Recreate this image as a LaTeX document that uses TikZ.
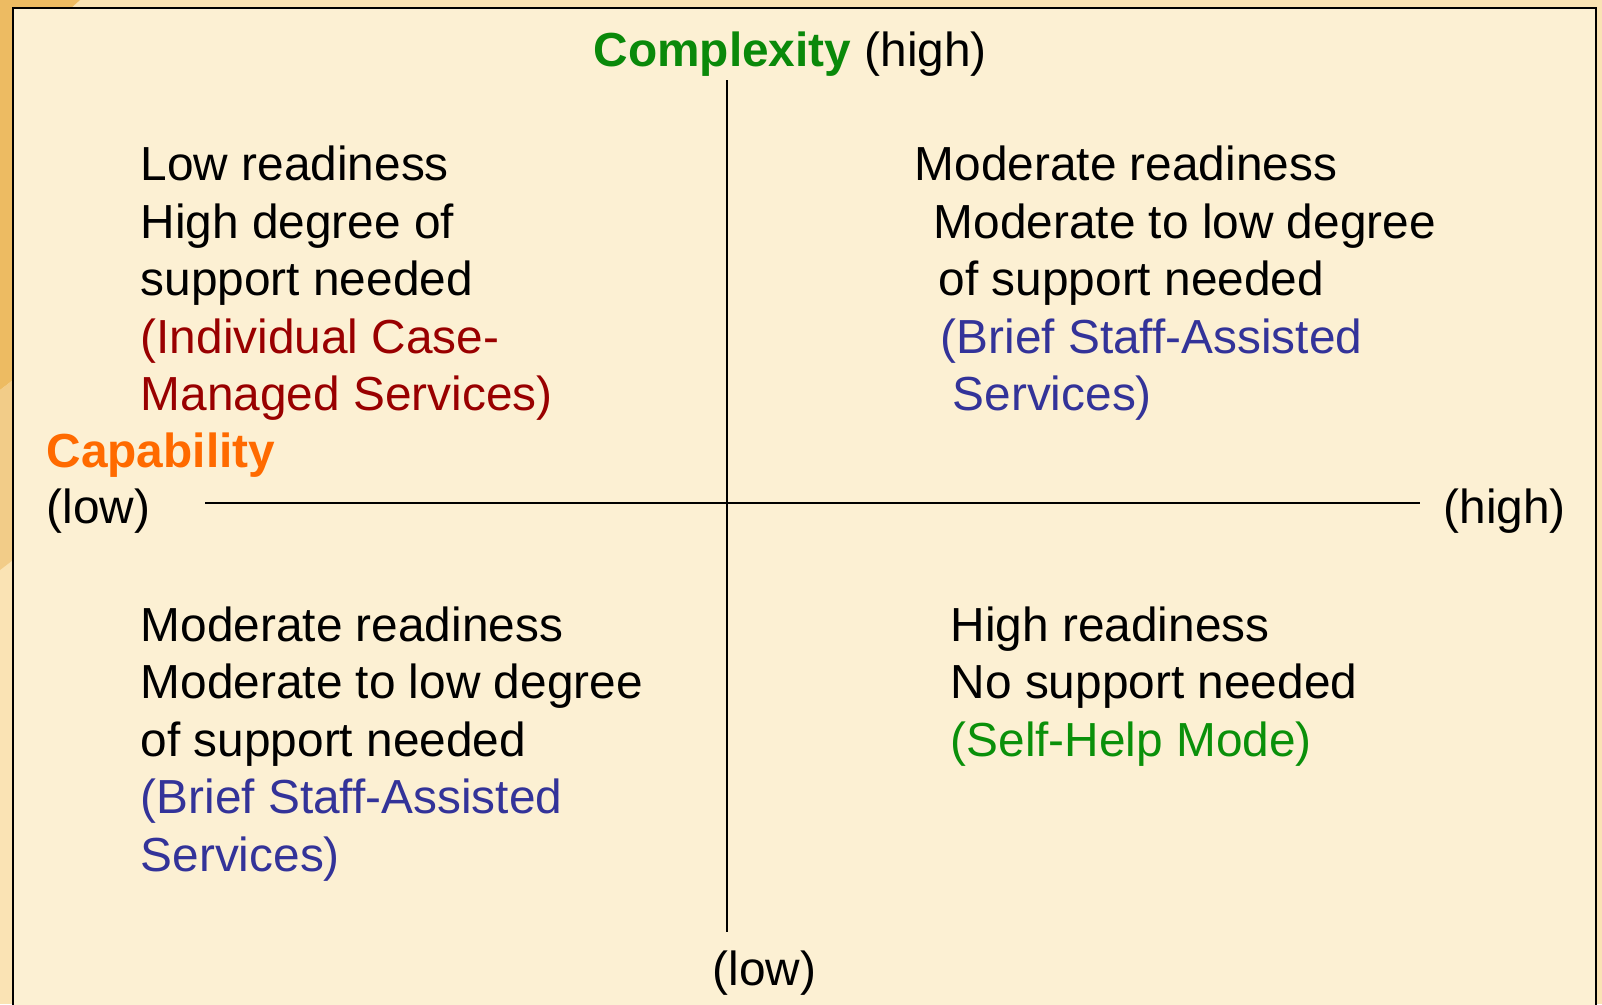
\documentclass[tikz,border=0pt]{standalone}
\usepackage{fontspec}
\setmainfont{Liberation Sans}
\usepackage{tikz}
\usetikzlibrary{positioning}

\definecolor{paper}{HTML}{FCF0D3}
\definecolor{peach}{HTML}{FAE3B4}
\definecolor{rimorange}{HTML}{EDBB62}
\definecolor{rimmid}{HTML}{F2CC88}
\definecolor{axisgreen}{HTML}{0A890A}
\definecolor{axisorange}{HTML}{FF6A00}
\definecolor{casered}{HTML}{990000}
\definecolor{staffblue}{HTML}{333399}
\definecolor{selfgreen}{HTML}{0A900A}

\tikzset{
  txt/.style={inner sep=0pt, anchor=base west, font=\fontsize{13.6}{16}\selectfont},
  axis/.style={line width=0.75pt}
}

\begin{document}
\begin{tikzpicture}
			\clip (0,0) rectangle (16.02,-10.04);
			% slide frame
			\fill[peach] (0,0) rectangle (16.02,-10.04);
			\fill[rimorange] (0,0) -- (0.8,0) -- (0.13,-0.6) -- (0.13,-3.8) -- (0,-3.9) -- cycle;
			\fill[rimmid] (0,-3.9) -- (0.13,-3.8) -- (0.13,-5.6) -- (0,-5.7) -- cycle;
			\fill[paper] (0.13,-0.08) rectangle (15.96,-10.3);
			\draw[line width=0.6pt] (0.13,-0.08) rectangle (15.96,-10.3);

			% axes
			\coordinate (top) at (7.27,-0.80);
			\coordinate (bot) at (7.27,-9.32);
			\coordinate (lft) at (2.05,-5.03);
			\coordinate (rgt) at (14.20,-5.03);
			\draw[axis] (top) -- (bot);
			\draw[axis] (lft) -- (rgt);

			% axis labels
			\node[txt] (cplx) at (5.93,-0.66) {\textbf{\color{axisgreen}Complexity} (high)};
			\node[txt] (capa) at (0.46,-4.67) {\textbf{\color{axisorange}Capability}};
			\node[txt] (caplow) at (0.46,-5.23) {(low)};
			\node[txt] (caphigh) at (14.43,-5.23) {(high)};
			\node[txt] (cplxlow) at (7.12,-9.85) {(low)};

			% top left
			\node[txt] (tl1) at (1.40,-1.805) {Low readiness};
			\node[txt] (tl2) at ([yshift=-0.575cm]tl1.base west) {High degree of};
			\node[txt] (tl3) at ([yshift=-0.575cm]tl2.base west) {support needed};
			\node[txt, text=casered] (tl4) at ([yshift=-0.575cm]tl3.base west) {(Individual Case-};
			\node[txt, text=casered] (tl5) at ([yshift=-0.575cm]tl4.base west) {Managed Services)};

			% top right
			\node[txt] (tr1) at (9.14,-1.805) {Moderate readiness};
			\node[txt] (tr2) at ([shift={(0.19,-0.575)}]tr1.base west) {Moderate to low degree};
			\node[txt] (tr3) at ([shift={(0.05,-0.575)}]tr2.base west) {of support needed};
			\node[txt, text=staffblue] (tr4) at ([shift={(0.02,-0.575)}]tr3.base west) {(Brief Staff-Assisted};
			\node[txt, text=staffblue] (tr5) at ([shift={(0.12,-0.575)}]tr4.base west) {Services)};

			% bottom left
			\node[txt] (bl1) at (1.40,-6.41) {Moderate readiness};
			\node[txt] (bl2) at ([yshift=-0.575cm]bl1.base west) {Moderate to low degree};
			\node[txt] (bl3) at ([yshift=-0.575cm]bl2.base west) {of support needed};
			\node[txt, text=staffblue] (bl4) at ([yshift=-0.575cm]bl3.base west) {(Brief Staff-Assisted};
			\node[txt, text=staffblue] (bl5) at ([yshift=-0.575cm]bl4.base west) {Services)};

			% bottom right
			\node[txt] (br1) at (9.50,-6.41) {High readiness};
			\node[txt] (br2) at ([yshift=-0.575cm]br1.base west) {No support needed};
			\node[txt, text=selfgreen] (br3) at ([yshift=-0.575cm]br2.base west) {(Self-Help Mode)};
		\end{tikzpicture}
\end{document}
